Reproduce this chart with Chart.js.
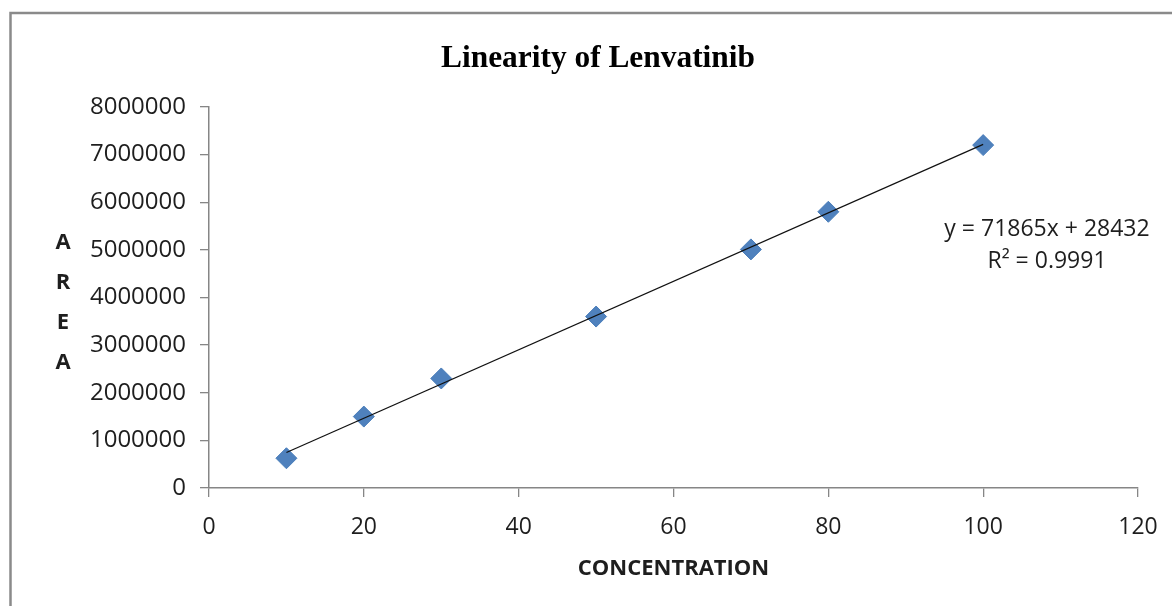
<!DOCTYPE html>
<html>
<head>
<meta charset="utf-8">
<script src="https://cdn.jsdelivr.net/npm/chart.js@4.4.1/dist/chart.umd.min.js"></script>
<style>
  html, body { margin: 0; padding: 0; background: #ffffff; }
  #wrap { position: absolute; left: 0; top: 0; width: 1172px; height: 606px; }
</style>
</head>
<body>
<div id="wrap"><canvas id="c" width="1172" height="606"></canvas></div>
<script>
// ---- data ----
const concentration = [10, 20, 30, 50, 70, 80, 100];
const area = [625000, 1500000, 2300000, 3600000, 5010000, 5800000, 7200000];
// trendline endpoints (from the displayed equation y = 71865x + 28432)
const trendX = [10, 100];
const trendY = [746082, 7214932];
const xTicks = [0, 20, 40, 60, 80, 100, 120];
const yTicks = [0, 1000000, 2000000, 3000000, 4000000, 5000000, 6000000, 7000000, 8000000];
const chartTitle = 'Linearity of Lenvatinib';
const xTitle = 'CONCENTRATION';
const yTitleLetters = ['A', 'R', 'E', 'A'];
const equationLines = ['y = 71865x + 28432', 'R\u00B2 = 0.9991'];

const axisGray = '#868686';
const textColor = '#1e1e1e';

const decorPlugin = {
  id: 'decor',
  beforeDraw(chart) {
    const ctx = chart.ctx;
    ctx.save();
    ctx.fillStyle = '#ffffff';
    ctx.fillRect(0, 0, chart.width, chart.height);
    ctx.strokeStyle = '#8a8a8a';
    ctx.lineWidth = 2.5;
    ctx.beginPath();
    ctx.moveTo(10.5, chart.height + 5);
    ctx.lineTo(10.5, 13);
    ctx.lineTo(chart.width + 5, 13);
    ctx.stroke();
    ctx.restore();
  },
  afterDraw(chart) {
    const ctx = chart.ctx;
    const ca = chart.chartArea;
    ctx.save();
    // title
    ctx.fillStyle = '#000000';
    ctx.font = 'bold 31.4px "Liberation Serif", "Times New Roman", serif';
    ctx.textAlign = 'center';
    ctx.textBaseline = 'alphabetic';
    ctx.fillText(chartTitle, 598, 66.5);
    // stacked y-axis title
    ctx.font = 'bold 22px "Open Sans", sans-serif';
    ctx.textBaseline = 'middle';
    ctx.fillStyle = textColor;
    yTitleLetters.forEach((ch, i) => {
      ctx.fillText(ch, 63, 243 + i * 40);
    });
    // equation label
    ctx.font = '23px "Open Sans", sans-serif';
    ctx.fillText(equationLines[0], ca.right - 91, 229);
    ctx.fillText(equationLines[1], ca.right - 91, 261);
    ctx.restore();
  }
};

new Chart(document.getElementById('c'), {
  type: 'scatter',
  data: {
    datasets: [
      {
        type: 'line',
        label: 'Trend',
        data: trendX.map((x, i) => ({ x: x, y: trendY[i] })),
        borderColor: '#111111',
        borderWidth: 1.2,
        pointRadius: 0,
        fill: false,
        order: 0
      },
      {
        label: 'Area',
        data: concentration.map((x, i) => ({ x: x, y: area[i] })),
        pointStyle: 'rectRot',
        pointRadius: 10.5,
        backgroundColor: '#4F81BD',
        borderColor: '#4A7EBB',
        borderWidth: 1,
        order: 1
      }
    ]
  },
  options: {
    responsive: false,
    animation: false,
    devicePixelRatio: 1,
    layout: { padding: { top: 107, right: 34, bottom: 0, left: 0 } },
    plugins: {
      legend: { display: false },
      tooltip: { enabled: false },
      title: { display: false }
    },
    scales: {
      x: {
        type: 'linear',
        min: 0,
        max: 120,
        afterBuildTicks(scale) { scale.ticks = xTicks.map(v => ({ value: v })); },
        afterFit(scale) { scale.height = 118; },
        ticks: {
          color: textColor,
          font: { family: '"Open Sans", sans-serif', size: 23, lineHeight: 1.45 },
          padding: 14,
          maxRotation: 0,
          callback: v => String(v)
        },
        grid: { display: true, drawOnChartArea: false, drawTicks: true, tickLength: 9, color: axisGray, lineWidth: 1.3 },
        border: { display: true, color: axisGray, width: 1.5 },
        title: {
          display: true,
          text: xTitle,
          color: textColor,
          font: { family: '"Open Sans", sans-serif', size: 22, weight: 'bold' },
          padding: { top: 0, bottom: 24 }
        }
      },
      y: {
        type: 'linear',
        min: 0,
        max: 8000000,
        afterBuildTicks(scale) { scale.ticks = yTicks.map(v => ({ value: v })); },
        afterFit(scale) { scale.width = 209; },
        ticks: {
          color: textColor,
          font: { family: '"Open Sans", sans-serif', size: 24 },
          padding: 14,
          callback: v => String(v)
        },
        grid: { display: true, drawOnChartArea: false, drawTicks: true, tickLength: 9, color: axisGray, lineWidth: 1.3 },
        border: { display: true, color: axisGray, width: 1.5 }
      }
    }
  },
  plugins: [decorPlugin]
});
</script>
</body>
</html>
